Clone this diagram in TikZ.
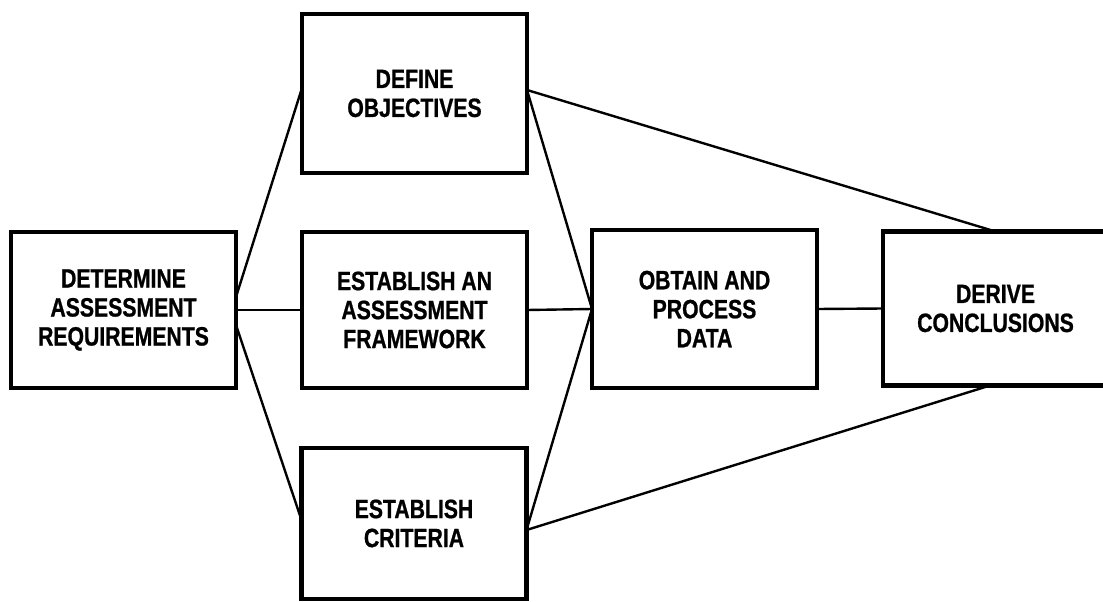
\documentclass[tikz,border=0pt]{standalone}
\usepackage{fontspec}
\newfontfamily\boxfont{Liberation Sans}[FakeStretch=0.8,BoldFeatures={FakeBold=0.8}]
\tikzset{
  stagebox/.style={draw=black, fill=white, line width=4.5pt, rectangle, align=center,
    inner sep=0pt, outer sep=0pt, minimum width=225pt, font=\boxfont\bfseries\fontsize{26.5}{29}\selectfont},
  link/.style={draw=black, line width=2.4pt}
}
\begin{document}
\begin{tikzpicture}[x=1pt,y=-1pt]
\useasboundingbox (0,0) rectangle (1103,602);
\clip (0,0) rectangle (1103,602);
\fill[white] (0,0) rectangle (1103,602);
% boxes
\node[stagebox, minimum height=156pt] (det) at (123.5,310) {DETERMINE\\ASSESSMENT\\REQUIREMENTS};
\node[stagebox, minimum height=159pt] (def) at (414.5,93.5) {DEFINE\\OBJECTIVES};
\node[stagebox, minimum height=156pt] (fw) at (414.5,310) {ESTABLISH AN\\ASSESSMENT\\FRAMEWORK};
\node[stagebox, minimum height=151pt] (crit) at (414,523.5) {ESTABLISH\\CRITERIA};
\node[stagebox, minimum height=158pt] (obt) at (704.5,309) {OBTAIN AND\\PROCESS\\DATA};
\node[stagebox, minimum height=154pt] (der) at (995.5,308.5) {DERIVE\\CONCLUSIONS};
% connectors
\draw[link] ([yshift=13pt]det.east) -- ([yshift=5.5pt]def.west);
\draw[link] ([yshift=-15pt]det.east) -- ([yshift=3.5pt]crit.west);
\draw[link] (det.east) -- (fw.west);
\draw[link] ([yshift=3.5pt]def.east) -- (obt.west);
\draw[link] ([yshift=3.5pt]def.east) -- (der.north);
\draw[link] (fw.east) -- (obt.west);
\draw[link] ([yshift=-6.5pt]crit.east) -- (obt.west);
\draw[link] ([yshift=-6.5pt]crit.east) -- ([xshift=-5.5pt]der.south);
\draw[link] (obt.east) -- (der.west);
\end{tikzpicture}
\end{document}
